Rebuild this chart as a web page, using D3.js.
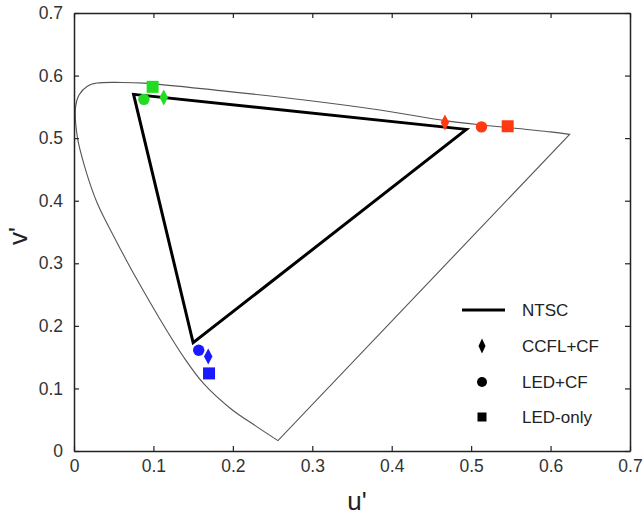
<!DOCTYPE html>
<html>
<head>
<meta charset="utf-8">
<script src="https://cdn.jsdelivr.net/npm/d3@7"></script>
<style>
  body { margin: 0; background: #fff; }
  svg { display: block; font-family: "Liberation Sans", Arial, sans-serif; }
</style>
</head>
<body>
<div id="chart_id"></div>
<script>
// --- --- --- Data --- --- ---

// spectral locus (u', v'), violet end -> red end
const locusU = [0.2568, 0.230, 0.197, 0.163, 0.1376, 0.109, 0.082, 0.0659, 0.0526, 0.0293,
  0.0147, 0.0042, 0.002, 0.0063, 0.0168, 0.029, 0.060, 0.088, 0.184, 0.290, 0.385, 0.467,
  0.513, 0.546, 0.600, 0.624];
const locusV = [0.0166, 0.039, 0.068, 0.108, 0.151, 0.209, 0.268, 0.305, 0.337, 0.396,
  0.449, 0.502, 0.550, 0.569, 0.583, 0.588, 0.589, 0.588, 0.576, 0.561, 0.545, 0.528,
  0.521, 0.517, 0.510, 0.506];

// NTSC triangle: R, G, B
const ntscU = [0.494, 0.075, 0.150];
const ntscV = [0.514, 0.570, 0.173];

// measured primaries, order R, G, B
const ccflU = [0.467, 0.113, 0.169];
const ccflV = [0.525, 0.565, 0.151];
const ledCfU = [0.513, 0.088, 0.157];
const ledCfV = [0.518, 0.562, 0.161];
const ledOnlyU = [0.546, 0.099, 0.170];
const ledOnlyV = [0.519, 0.582, 0.124];

const primaryColors = ["#ff3a12", "#22dc22", "#1a1aff"];
const ticks = [0, 0.1, 0.2, 0.3, 0.4, 0.5, 0.6, 0.7];
const legendLabels = ["NTSC", "CCFL+CF", "LED+CF", "LED-only"];

// --- --- --- Chart --- --- ---

const width = 644, height = 516;
const x = d3.scaleLinear().domain([0, 0.7]).range([74, 630]);
const y = d3.scaleLinear().domain([0, 0.7]).range([451, 13]);

const svg = d3.select("#chart_id").append("svg")
  .attr("width", width)
  .attr("height", height);

// spectral locus, closed by the straight purple line
const locus = locusU.map((u, i) => [u, locusV[i]]);
const locusLine = d3.line().x(d => x(d[0])).y(d => y(d[1])).curve(d3.curveCatmullRom.alpha(0.5));
svg.append("path")
  .datum(locus)
  .attr("fill", "none")
  .attr("stroke", "#555")
  .attr("stroke-width", 1.1)
  .attr("d", d => locusLine(d) + "Z");

// NTSC triangle
const ntsc = ntscU.map((u, i) => [u, ntscV[i]]);
svg.append("path")
  .datum(ntsc)
  .attr("fill", "none")
  .attr("stroke", "#000")
  .attr("stroke-width", 3)
  .attr("stroke-linejoin", "miter")
  .attr("d", d3.line().x(d => x(d[0])).y(d => y(d[1])).curve(d3.curveLinearClosed));

// axes
function styleAxis(g) {
  g.select(".domain").attr("stroke", "#222").attr("stroke-width", 1.5);
  g.selectAll(".tick line").attr("stroke", "#222").attr("stroke-width", 1.2);
  g.selectAll(".tick text").attr("fill", "#333").attr("font-size", "17.5px")
    .attr("font-family", "Liberation Sans, Arial, sans-serif");
}

svg.append("g")
  .attr("transform", `translate(0,${y(0)})`)
  .call(d3.axisBottom(x).tickValues(ticks).tickFormat(d3.format("~g"))
    .tickSizeInner(-5).tickSizeOuter(0).tickPadding(9))
  .call(styleAxis);

svg.append("g")
  .attr("transform", `translate(0,${y(0.7)})`)
  .call(d3.axisTop(x).tickValues(ticks).tickFormat("")
    .tickSizeInner(-5).tickSizeOuter(0))
  .call(styleAxis);

svg.append("g")
  .attr("transform", `translate(${x(0)},0)`)
  .call(d3.axisLeft(y).tickValues(ticks).tickFormat(d3.format("~g"))
    .tickSizeInner(-5).tickSizeOuter(0).tickPadding(11))
  .call(styleAxis);

svg.append("g")
  .attr("transform", `translate(${x(0.7)},0)`)
  .call(d3.axisRight(y).tickValues(ticks).tickFormat("")
    .tickSizeInner(-5).tickSizeOuter(0))
  .call(styleAxis);

// axis titles
svg.append("text")
  .attr("x", 357).attr("y", 510)
  .attr("text-anchor", "middle")
  .attr("font-size", "26px")
  .attr("fill", "#222")
  .text("u'");

svg.append("text")
  .attr("transform", "translate(27,236) rotate(-90)")
  .attr("text-anchor", "middle")
  .attr("font-size", "26px")
  .attr("fill", "#222")
  .text("v'");

// markers
const diamond = (w, h) => `M0,${-h / 2}L${w / 2},0L0,${h / 2}L${-w / 2},0Z`;

const marks = svg.append("g");
// diamonds: CCFL+CF
marks.selectAll(".ccfl")
  .data(ccflU.map((u, i) => ({u, v: ccflV[i], c: primaryColors[i]})))
  .join("path")
  .attr("class", "ccfl")
  .attr("transform", d => `translate(${x(d.u)},${y(d.v)})`)
  .attr("d", diamond(8.5, 16))
  .attr("fill", d => d.c);

// circles: LED+CF
marks.selectAll(".ledcf")
  .data(ledCfU.map((u, i) => ({u, v: ledCfV[i], c: primaryColors[i]})))
  .join("circle")
  .attr("class", "ledcf")
  .attr("cx", d => x(d.u))
  .attr("cy", d => y(d.v))
  .attr("r", 5.7)
  .attr("fill", d => d.c);

// squares: LED-only
marks.selectAll(".ledonly")
  .data(ledOnlyU.map((u, i) => ({u, v: ledOnlyV[i], c: primaryColors[i]})))
  .join("rect")
  .attr("class", "ledonly")
  .attr("x", d => x(d.u) - 6)
  .attr("y", d => y(d.v) - 6)
  .attr("width", 12)
  .attr("height", 12)
  .attr("fill", d => d.c);

// --- --- --- Legend --- --- ---
const legend = svg.append("g");
const legendY = [310, 346, 382, 417];

legend.append("line")
  .attr("x1", 462).attr("x2", 505)
  .attr("y1", legendY[0]).attr("y2", legendY[0])
  .attr("stroke", "#000").attr("stroke-width", 3);

legend.append("path")
  .attr("transform", `translate(482,${legendY[1]})`)
  .attr("d", diamond(7, 15))
  .attr("fill", "#000");

legend.append("circle")
  .attr("cx", 482).attr("cy", legendY[2]).attr("r", 5)
  .attr("fill", "#000");

legend.append("rect")
  .attr("x", 477.5).attr("y", legendY[3] - 4.5)
  .attr("width", 9).attr("height", 9)
  .attr("fill", "#000");

legend.selectAll(".label")
  .data(legendLabels)
  .join("text")
  .attr("class", "label")
  .attr("x", 522)
  .attr("y", (d, i) => legendY[i])
  .attr("dy", "0.36em")
  .attr("font-size", "17px")
  .attr("fill", "#222")
  .text(d => d);
</script>
</body>
</html>
